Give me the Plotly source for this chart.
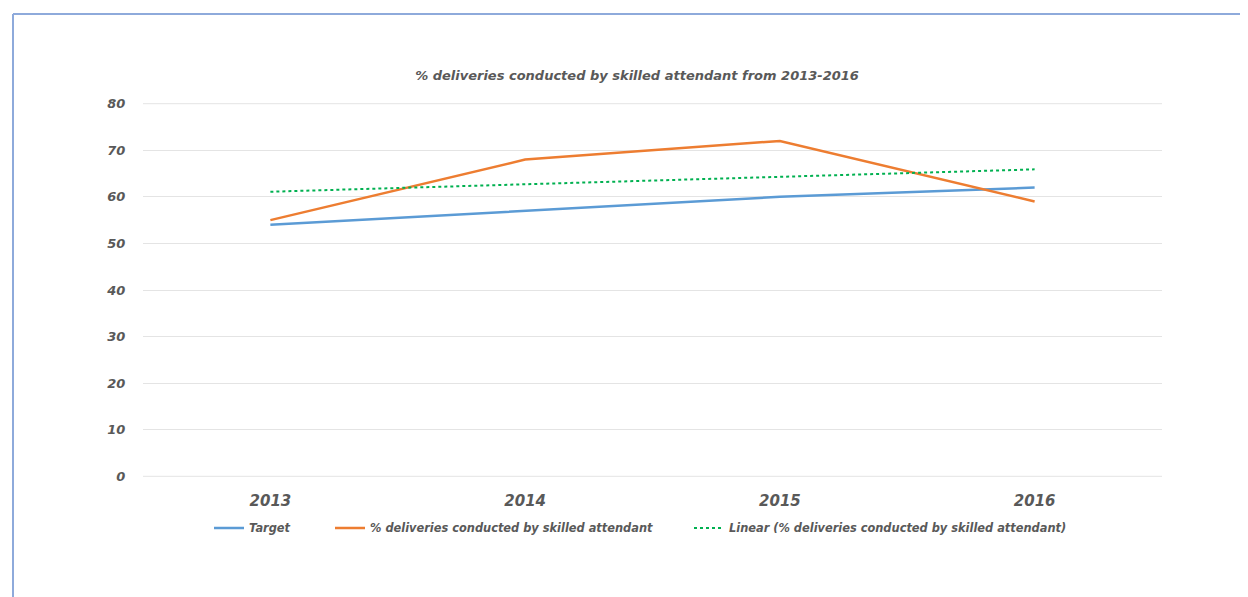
import plotly.graph_objects as go

years = ["2013", "2014", "2015", "2016"]
target = [54, 57, 60, 62]
skilled = [55, 68, 72, 59]
linear_trend = [61.1, 62.7, 64.3, 65.9]
y_ticks = [0, 10, 20, 30, 40, 50, 60, 70, 80]

FONT = "DejaVu Sans, Verdana, sans-serif"
GRAY = "#595959"
GRID = "#e4e4e4"

# page offset of the plotly div (default body margin)
OFF = 8
W, H = 1248, 597
L, T = 143 - OFF, 103 - OFF
PW, PH = 1019, 374
R, B = W - L - PW, H - T - PH


def px_to_paper_x(px):
    return (px - OFF - L) / PW


def px_to_paper_y(py):
    return 1 - (py - OFF - T) / PH


leg_font = dict(family=FONT, size=11.4, color=GRAY, style="italic", weight="bold")

fig = go.Figure()
fig.add_trace(go.Scatter(x=years, y=target, mode="lines", name="Target",
                         line=dict(color="#5b9bd5", width=2.5), legend="legend"))
fig.add_trace(go.Scatter(x=years, y=skilled, mode="lines",
                         name="% deliveries conducted by skilled attendant",
                         line=dict(color="#ed7d31", width=2.5), legend="legend2"))
fig.add_trace(go.Scatter(x=years, y=linear_trend, mode="lines",
                         name="Linear (% deliveries conducted by skilled attendant)",
                         line=dict(color="#00b050", width=2, dash="dot"), legend="legend3"))

leg_y = px_to_paper_y(528)
common = dict(orientation="h", yanchor="middle", y=leg_y, xanchor="left",
              font=leg_font, itemwidth=30, bgcolor="rgba(0,0,0,0)", borderwidth=0)

edge_lines = [
    dict(type="line", xref="paper", yref="y", x0=0, x1=1, y0=v, y1=v,
         line=dict(color=GRID, width=1), layer="below")
    for v in (y_ticks[0], y_ticks[-1])
]

fig.update_layout(
    width=W, height=H,
    paper_bgcolor="white", plot_bgcolor="white",
    margin=dict(l=L, r=R, t=T, b=B),
    title=dict(text="% deliveries conducted by skilled attendant from 2013-2016",
               x=(637 - OFF) / W, xanchor="center", y=1 - (75 - OFF) / H, yanchor="middle",
               font=dict(family=FONT, size=13, color=GRAY, style="italic", weight="bold")),
    xaxis=dict(type="category", range=[-0.5, 3.5], showgrid=False, zeroline=False,
               showline=False, ticks="outside", ticklen=10, tickcolor="rgba(0,0,0,0)",
               tickfont=dict(family=FONT, size=15, color=GRAY, style="italic", weight="bold")),
    yaxis=dict(range=[-0.15, 80.15], tickvals=y_ticks, showgrid=True, gridcolor=GRID,
               gridwidth=1, zeroline=False, showline=False, ticks="outside",
               ticklen=14, tickcolor="rgba(0,0,0,0)",
               tickfont=dict(family=FONT, size=13, color=GRAY, style="italic", weight="bold")),
    showlegend=True,
    legend=dict(common, x=px_to_paper_x(209)),
    legend2=dict(common, x=px_to_paper_x(330)),
    legend3=dict(common, x=px_to_paper_x(689)),
    shapes=edge_lines + [
        dict(type="line", xref="paper", yref="paper",
             x0=px_to_paper_x(13), x1=px_to_paper_x(1260),
             y0=px_to_paper_y(14), y1=px_to_paper_y(14),
             line=dict(color="#8eaadb", width=2)),
        dict(type="line", xref="paper", yref="paper",
             x0=px_to_paper_x(13), x1=px_to_paper_x(13),
             y0=px_to_paper_y(14), y1=px_to_paper_y(620),
             line=dict(color="#8eaadb", width=2)),
    ],
)

fig.write_html("out.html")
